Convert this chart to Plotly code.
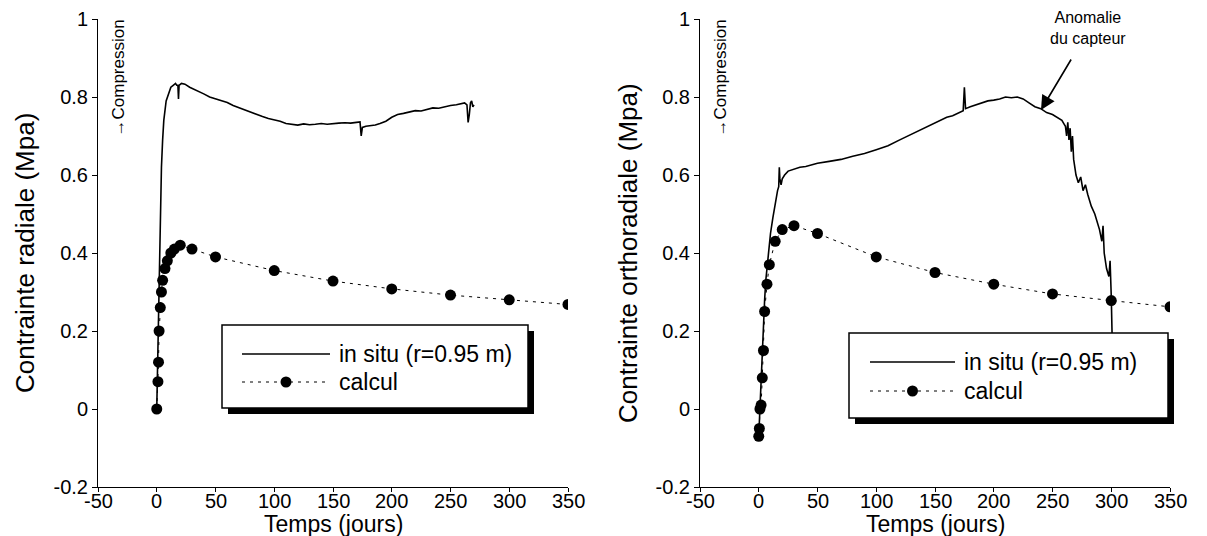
import plotly.graph_objects as go
from plotly.subplots import make_subplots

# data
t_radial = [0, 0.5, 1, 1.5, 2, 2.5, 3, 4, 5, 6,
            8, 10, 12, 14, 16, 17, 18, 18.5, 19, 21,
            24, 28, 32, 36, 40, 45, 50, 55, 60, 65,
            70, 75, 80, 85, 90, 95, 100, 105, 110, 115,
            120, 125, 130, 135, 140, 145, 150, 155, 160, 165,
            170, 173, 174, 175, 178, 182, 186, 190, 195, 200,
            205, 210, 215, 220, 225, 230, 235, 240, 245, 250,
            255, 258, 262, 264, 265, 266, 267, 268, 269, 270]
insitu_radial = [0.0, 0.08, 0.18, 0.28, 0.38, 0.46, 0.53, 0.62, 0.69, 0.74,
                 0.79, 0.81, 0.825, 0.83, 0.835, 0.83, 0.83, 0.795, 0.83, 0.835,
                 0.833, 0.825, 0.82, 0.815, 0.808, 0.80, 0.795, 0.79, 0.786, 0.778,
                 0.772, 0.768, 0.76, 0.755, 0.75, 0.745, 0.742, 0.738, 0.732, 0.73,
                 0.728, 0.731, 0.729, 0.73, 0.732, 0.73, 0.732, 0.733, 0.734, 0.733,
                 0.735, 0.736, 0.70, 0.722, 0.725, 0.727, 0.728, 0.732, 0.738, 0.748,
                 0.755, 0.758, 0.762, 0.765, 0.764, 0.768, 0.772, 0.771, 0.775, 0.778,
                 0.78, 0.782, 0.785, 0.78, 0.735, 0.755, 0.785, 0.79, 0.775, 0.78]

t_calc_radial = [0, 1, 1.5, 2, 3, 4, 5, 7, 9, 12, 15, 20, 30, 50, 100, 150, 200, 250, 300, 350]
calc_radial = [0.0, 0.07, 0.12, 0.20, 0.26, 0.30, 0.33, 0.36, 0.38, 0.40,
               0.41, 0.42, 0.41, 0.39, 0.355, 0.328, 0.308, 0.292, 0.28, 0.268]

t_ortho = [0, 0.5, 1, 2, 3, 4, 5, 6, 8, 10,
           12, 14, 16, 17, 17.5, 18, 19, 20, 22, 25,
           30, 35, 40, 50, 60, 70, 80, 90, 100, 110,
           120, 130, 140, 150, 160, 165, 170, 174, 175, 176,
           180, 185, 190, 195, 200, 205, 210, 215, 220, 225,
           230, 235, 240, 245, 250, 255, 258, 260, 261, 262,
           263, 264, 265, 266, 267, 268, 270, 272, 274, 276,
           278, 280, 283, 286, 288, 290, 292, 293, 294, 296,
           298, 299, 300, 300.5, 301]
insitu_ortho = [-0.07, -0.03, 0.01, 0.08, 0.15, 0.22, 0.28, 0.33, 0.40, 0.45,
                0.49, 0.53, 0.56, 0.57, 0.62, 0.59, 0.575, 0.59, 0.60, 0.61,
                0.615, 0.62, 0.622, 0.63, 0.635, 0.64, 0.648, 0.655, 0.665, 0.675,
                0.69, 0.705, 0.72, 0.735, 0.748, 0.752, 0.76, 0.765, 0.825, 0.77,
                0.775, 0.78, 0.785, 0.79, 0.792, 0.795, 0.80, 0.798, 0.80, 0.795,
                0.785, 0.775, 0.77, 0.76, 0.755, 0.745, 0.74, 0.73, 0.725, 0.70,
                0.735, 0.69, 0.72, 0.66, 0.70, 0.64, 0.60, 0.58, 0.595, 0.56,
                0.575, 0.55, 0.52, 0.50, 0.48, 0.46, 0.43, 0.47, 0.40, 0.36,
                0.34, 0.38, 0.29, 0.22, 0.15]

t_calc_ortho = [0, 0.5, 1, 2, 3, 4, 5, 7, 9, 14, 20, 30, 50, 100, 150, 200, 250, 300, 350]
calc_ortho = [-0.07, -0.05, 0.0, 0.01, 0.08, 0.15, 0.25, 0.32, 0.37, 0.43,
              0.46, 0.47, 0.45, 0.39, 0.35, 0.32, 0.295, 0.278, 0.262]

x_ticks = [-50, 0, 50, 100, 150, 200, 250, 300, 350]
x_labels = ["-50", "0", "50", "100", "150", "200", "250", "300", "350"]
y_ticks = [-0.2, 0, 0.2, 0.4, 0.6, 0.8, 1]
y_labels = ["-0.2", "0", "0.2", "0.4", "0.6", "0.8", "1"]

y_titles = ["Contrainte radiale (Mpa)", "Contrainte orthoradiale (Mpa)"]
legend_names = ["in situ (r=0.95 m)", "calcul"]

W, H = 1207, 536
# plot area on the page: x 98..1170, y 19..487 (page body has an 8px margin)
L, R, T, B = 90, 45, 11, 57
FONT = "Liberation Sans, Arial, sans-serif"


def px(x):
    return (x - 98) / 1072


def py(y):
    return (487 - y) / 468


fig = make_subplots(rows=1, cols=2)

pairs = [(t_radial, insitu_radial, t_calc_radial, calc_radial),
         (t_ortho, insitu_ortho, t_calc_ortho, calc_ortho)]
for i, (t1, v1, t2, v2) in enumerate(pairs):
    fig.add_trace(go.Scatter(x=t1, y=v1, mode="lines",
                             line=dict(color="black", width=1.6),
                             showlegend=False), row=1, col=i + 1)
    fig.add_trace(go.Scatter(x=t2, y=v2, mode="lines+markers",
                             line=dict(color="black", width=1, dash="3px,5px"),
                             marker=dict(color="black", size=11),
                             showlegend=False), row=1, col=i + 1)

axis_font = dict(family=FONT, size=20, color="black")
# x tick labels are placed by hand (below) so they sit close to the axis
fig.update_xaxes(range=[-50, 350], tickvals=x_ticks, showticklabels=False,
                 showline=True, linecolor="black", linewidth=1,
                 ticks="outside", ticklen=4, tickcolor="black",
                 showgrid=False, zeroline=False, automargin=False)
fig.update_yaxes(range=[-0.2, 1], tickvals=y_ticks, ticktext=y_labels,
                 showline=True, linecolor="black", linewidth=1,
                 ticks="outside", ticklen=5, tickcolor="black",
                 showgrid=False, zeroline=False, tickfont=axis_font,
                 ticklabeloverflow="allow", automargin=False)
fig.update_layout(xaxis=dict(domain=[0, px(568)]),
                  xaxis2=dict(domain=[px(700), 1]))

shapes = []
annotations = []

for xref in ("x", "x2"):
    for tv, tl in zip(x_ticks, x_labels):
        annotations.append(dict(x=tv, y=py(501), xref=xref, yref="paper",
                                text=tl, showarrow=False,
                                xanchor="center", yanchor="middle",
                                font=axis_font))

# legend boxes with drop shadow
legends = [dict(box=(222, 325, 528, 408), rows=(354, 382), line=(242, 330), text=337),
           dict(box=(849, 333, 1168, 418), rows=(362, 391), line=(870, 955), text=962)]
for lg in legends:
    x0, y0, x1, y1 = lg["box"]
    shapes.append(dict(type="rect", xref="paper", yref="paper",
                       x0=px(x0 + 6), x1=px(x1 + 6), y0=py(y1 + 6), y1=py(y0 + 6),
                       fillcolor="black", line=dict(width=0)))
    shapes.append(dict(type="rect", xref="paper", yref="paper",
                       x0=px(x0), x1=px(x1), y0=py(y1), y1=py(y0),
                       fillcolor="white", line=dict(color="black", width=1.5)))
    r1, r2 = lg["rows"]
    lx0, lx1 = lg["line"]
    shapes.append(dict(type="line", xref="paper", yref="paper",
                       x0=px(lx0), x1=px(lx1), y0=py(r1), y1=py(r1),
                       line=dict(color="black", width=1.6)))
    shapes.append(dict(type="line", xref="paper", yref="paper",
                       x0=px(lx0), x1=px(lx1), y0=py(r2), y1=py(r2),
                       line=dict(color="black", width=1, dash="3px,5px")))
    mx = (lx0 + lx1) / 2
    shapes.append(dict(type="circle", xref="paper", yref="paper",
                       x0=px(mx - 5.5), x1=px(mx + 5.5), y0=py(r2 + 5.5), y1=py(r2 - 5.5),
                       fillcolor="black", line=dict(width=0)))
    for name, ry in zip(legend_names, (r1, r2)):
        annotations.append(dict(x=px(lg["text"]), y=py(ry), xref="paper", yref="paper",
                                text=name, showarrow=False, xanchor="left", yanchor="middle",
                                font=dict(family=FONT, size=23, color="black")))

# axis titles
for ytitle, xc, xt in zip(y_titles, (25, 628), (333, 935)):
    annotations.append(dict(x=px(xc), y=py(253), xref="paper", yref="paper",
                            text=ytitle, textangle=-90, showarrow=False,
                            xanchor="center", yanchor="middle",
                            font=dict(family=FONT, size=26, color="black")))
    annotations.append(dict(x=px(xt), y=py(524), xref="paper", yref="paper",
                            text="Temps (jours)", showarrow=False,
                            xanchor="center", yanchor="middle",
                            font=dict(family=FONT, size=23, color="black")))

# compression hint
for xc in (118, 720):
    annotations.append(dict(x=px(xc), y=py(18), xref="paper", yref="paper",
                            text="\u2192Compression", textangle=-90, showarrow=False,
                            xanchor="center", yanchor="top",
                            font=dict(family=FONT, size=17, color="black")))

# sensor anomaly arrow
annotations.append(dict(x=px(1041), y=py(110), xref="paper", yref="paper",
                        ax=31, ay=-52, text="", showarrow=True, arrowhead=2,
                        arrowsize=1.8, arrowwidth=1.6, arrowcolor="black"))
annotations.append(dict(x=px(1088), y=py(28), xref="paper", yref="paper",
                        text="Anomalie<br>du capteur", showarrow=False,
                        xanchor="center", yanchor="middle",
                        font=dict(family=FONT, size=16, color="black")))

fig.update_layout(width=W, height=H, margin=dict(l=L, r=R, t=T, b=B),
                  plot_bgcolor="white", paper_bgcolor="white",
                  shapes=shapes, annotations=annotations,
                  font=dict(family=FONT, color="black"))

fig.write_html("out.html")
